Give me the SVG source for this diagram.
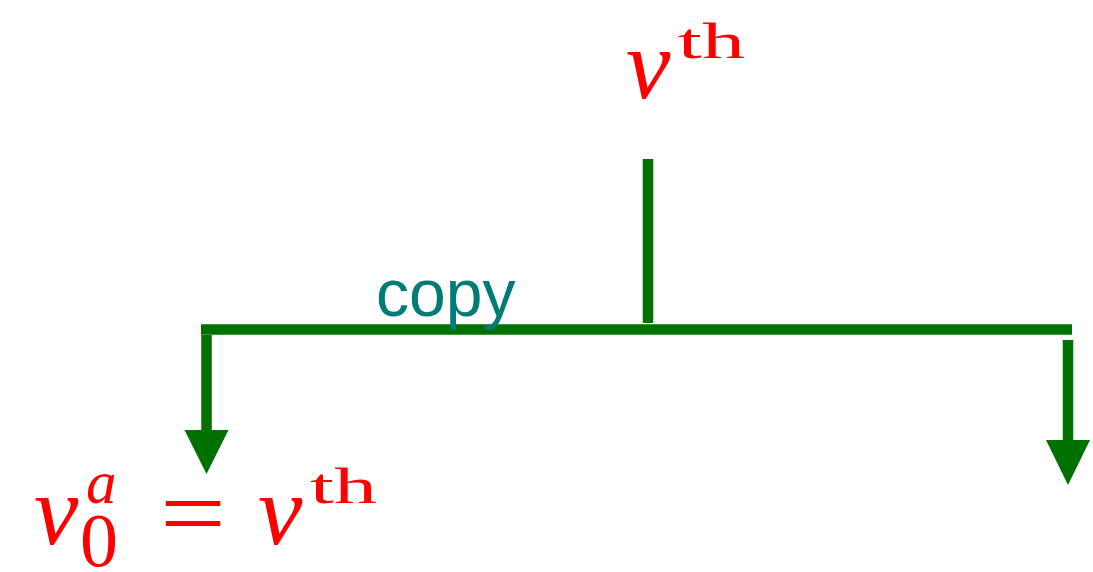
<svg xmlns="http://www.w3.org/2000/svg" width="1093" height="572" viewBox="0 0 1093 572">
<style>
.ln{stroke:#007000;stroke-width:10.5;fill:none;stroke-linecap:butt}
.hd{fill:#007000}
.m{fill:#ff0000;font-family:"Liberation Serif",serif}
.i{font-style:italic}
.lbl{fill:#007c74;font-family:"Liberation Sans",Arial,sans-serif;font-size:66px}
</style>
<rect width="1093" height="572" fill="#ffffff"/>
<g id="connectors">
<line class="ln" x1="648" y1="159" x2="648" y2="323"/>
<line class="ln" x1="201" y1="329.5" x2="1072" y2="329.5"/>
<line class="ln" x1="206.5" y1="335" x2="206.5" y2="432"/>
<polygon class="hd" points="184.5,430 228.5,430 206.5,474"/>
<line class="ln" x1="1068" y1="340" x2="1068" y2="442"/>
<polygon class="hd" points="1046,440 1090,440 1068,485"/>
<text class="lbl" x="376" y="316">copy</text>
</g>
<g id="source">
<text class="m i" x="626" y="98" font-size="100">v</text>
<text class="m" x="678" y="58" font-size="50" textLength="67" lengthAdjust="spacingAndGlyphs">th</text>
</g>
<g id="target">
<text class="m i" x="34" y="544" font-size="100">v</text>
<text class="m i" x="86" y="503" font-size="61">a</text>
<text class="m" x="80" y="566" font-size="76">0</text>
<text class="m" x="160" y="547" font-size="100" textLength="66" lengthAdjust="spacingAndGlyphs">=</text>
<text class="m i" x="258" y="544" font-size="100">v</text>
<text class="m" x="310" y="503" font-size="50" textLength="67" lengthAdjust="spacingAndGlyphs">th</text>
</g>
</svg>
